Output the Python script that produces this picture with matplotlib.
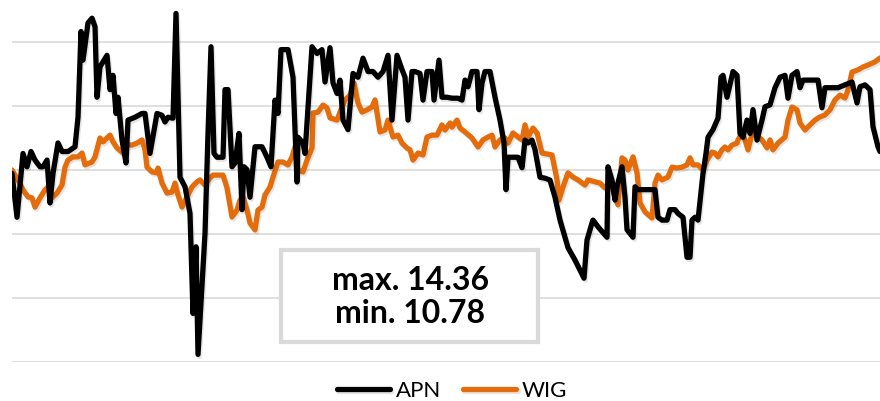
import matplotlib
matplotlib.use("Agg")
import matplotlib.pyplot as plt
import matplotlib.patheffects as pe
from matplotlib.patches import Rectangle
import numpy as np

plt.rcParams['font.family'] = ['Lato', 'DejaVu Sans']

# APN share price (PLN), time in session units
t_apn = [0, 5, 11, 15, 19, 23, 28, 31, 35, 38, 41, 46, 50, 56, 63, 66, 69, 71, 76, 80,
         83, 85, 88, 95, 98, 101, 104, 106, 110, 114, 116, 123, 130, 133, 138, 145, 150, 153, 156, 161,
         164, 168, 173, 178, 181, 184, 186, 193, 196, 199, 202, 205, 211, 213, 216, 220, 223, 227, 230, 232,
         235, 238, 243, 250, 255, 259, 263, 266, 269, 276, 281, 285, 286, 291, 293, 300, 305, 310, 313, 318,
         321, 325, 328, 331, 336, 341, 346, 351, 356, 361, 366, 371, 376, 380, 385, 390, 393, 396, 400, 403,
         408, 411, 415, 420, 422, 427, 430, 435, 440, 446, 450, 453, 456, 460, 465, 467, 470, 473, 478, 483,
         488, 492, 494, 496, 501, 506, 510, 513, 516, 520, 523, 528, 533, 538, 543, 548, 556, 563, 572, 575,
         580, 581, 586, 595, 596, 600, 603, 605, 610, 613, 615, 618, 621, 623, 626, 636, 643, 646, 650, 655,
         658, 663, 666, 671, 675, 678, 680, 683, 686, 691, 694, 696, 701, 706, 709, 711, 715, 721, 725, 728,
         731, 735, 738, 741, 745, 750, 753, 758, 763, 768, 773, 776, 780, 785, 788, 791, 796, 806, 810, 813,
         820, 826, 833, 840, 845, 848, 853, 858, 861, 866, 868]
apn = [12.68, 12.22, 12.89, 12.75, 12.91, 12.82, 12.75, 12.75, 12.82, 12.37, 12.68, 13.00, 12.91, 12.91, 12.96, 13.27, 14.17, 13.87, 14.26, 14.31,
       14.22, 13.48, 13.80, 13.92, 13.56, 13.71, 13.31, 13.48, 13.03, 12.79, 13.24, 13.27, 13.31, 13.31, 12.89, 13.31, 13.29, 13.22, 13.27, 13.26,
       14.36, 12.64, 12.54, 12.26, 11.21, 11.91, 10.78, 12.05, 13.10, 14.01, 12.89, 12.85, 12.85, 13.56, 13.56, 12.75, 12.79, 13.10, 12.30, 12.75,
       12.72, 12.43, 12.96, 12.96, 12.85, 12.75, 13.45, 13.31, 13.98, 13.98, 13.69, 12.59, 13.06, 13.00, 12.89, 14.01, 13.94, 13.98, 13.64, 14.00,
       13.63, 13.52, 13.66, 13.24, 13.14, 13.73, 13.69, 13.89, 13.75, 13.75, 13.69, 13.75, 13.92, 13.24, 13.92, 13.77, 13.69, 13.24, 13.75, 13.75,
       13.73, 13.45, 13.75, 13.75, 13.45, 13.87, 13.48, 13.48, 13.47, 13.47, 13.45, 13.66, 13.59, 13.75, 13.75, 13.35, 13.63, 13.75, 13.75, 13.48,
       13.24, 13.00, 12.51, 12.85, 12.85, 12.85, 12.74, 13.03, 13.00, 13.03, 12.93, 12.64, 12.63, 12.61, 12.43, 12.19, 11.90, 11.77, 11.58, 11.98,
       12.16, 12.19, 12.12, 12.01, 12.75, 12.61, 12.40, 12.54, 12.75, 12.43, 12.09, 12.05, 12.01, 12.54, 12.51, 12.51, 12.51, 12.22, 12.19, 12.19,
       12.30, 12.30, 12.26, 12.22, 11.80, 11.80, 12.19, 12.22, 12.19, 12.68, 12.89, 13.06, 13.14, 13.26, 13.69, 13.71, 13.48, 13.75, 13.71, 13.10,
       13.06, 13.24, 13.10, 13.35, 13.03, 13.24, 13.38, 13.40, 13.58, 13.69, 13.71, 13.47, 13.71, 13.75, 13.58, 13.66, 13.66, 13.66, 13.37, 13.58,
       13.58, 13.58, 13.61, 13.64, 13.42, 13.59, 13.61, 13.56, 13.17, 12.96, 12.91]

# WIG index (points)
t_wig = [0, 6, 11, 16, 20, 23, 28, 33, 36, 40, 45, 50, 53, 56, 61, 66, 70, 73, 80, 83,
         88, 91, 98, 101, 105, 111, 115, 120, 125, 130, 133, 135, 140, 145, 146, 150, 155, 160, 163, 166,
         170, 175, 180, 185, 188, 193, 198, 201, 211, 215, 220, 225, 228, 231, 235, 238, 243, 246, 250, 253,
         258, 261, 266, 271, 276, 280, 283, 286, 291, 295, 300, 301, 306, 311, 315, 318, 325, 330, 333, 338,
         342, 346, 350, 355, 360, 363, 368, 373, 376, 381, 386, 390, 395, 398, 401, 406, 411, 415, 420, 425,
         430, 433, 438, 440, 445, 448, 453, 460, 466, 471, 476, 480, 483, 488, 493, 496, 501, 506, 510, 513,
         516, 521, 525, 530, 540, 545, 547, 551, 556, 561, 566, 573, 576, 583, 588, 593, 598, 603, 606, 610,
         613, 616, 621, 625, 628, 633, 640, 643, 646, 650, 656, 660, 665, 670, 675, 678, 681, 686, 691, 695,
         700, 703, 706, 710, 713, 716, 720, 725, 726, 730, 733, 736, 741, 746, 750, 755, 758, 761, 766, 773,
         776, 780, 785, 788, 793, 798, 803, 808, 813, 818, 823, 828, 833, 836, 840, 846, 851, 856, 863, 868]
wig = [62000, 61690, 61380, 61160, 61130, 60840, 61130, 61380, 61470, 61130, 61280, 61530, 62090, 62310, 62410, 62410, 62530, 62160, 62250, 62410,
       63000, 62880, 63090, 62880, 62690, 62530, 62780, 62780, 62840, 62940, 62630, 62090, 61940, 61910, 62060, 61590, 61280, 61310, 61590, 61220,
       60840, 61160, 61470, 61630, 61690, 61530, 61750, 61840, 61840, 61440, 60530, 60750, 61060, 61160, 60750, 60340, 60130, 60750, 60840, 61220,
       61470, 61780, 62250, 62250, 62160, 62410, 62720, 62000, 61940, 62310, 62690, 63780, 63810, 64030, 63940, 63630, 63560, 63970, 64190, 64340,
       64720, 64090, 63810, 63880, 63970, 64190, 63190, 63250, 63560, 63030, 63090, 62840, 62690, 62630, 62310, 62530, 62470, 63030, 63090, 63090,
       63410, 63250, 63470, 63340, 63560, 63310, 63190, 63000, 62720, 62940, 63030, 63090, 62720, 62940, 63000, 62840, 63160, 63030, 62940, 63410,
       63030, 63310, 63160, 62530, 62470, 61690, 61060, 61470, 61910, 61780, 61690, 61530, 61690, 61630, 61590, 61440, 61630, 61160, 60910, 62380,
       62310, 62000, 62410, 61910, 60970, 60690, 60500, 61590, 61840, 61690, 61780, 62090, 62060, 62090, 62160, 62380, 62160, 62160, 62000, 62310,
       62560, 62530, 62410, 62630, 62720, 62630, 62780, 62840, 62940, 63160, 62940, 62630, 63250, 63030, 62940, 62690, 62940, 62630, 62840, 63030,
       63560, 63970, 63880, 63470, 63250, 63410, 63560, 63660, 63720, 63880, 64190, 64340, 64250, 64500, 65060, 65130, 65220, 65280, 65380, 65500]

wig_grid = [56000, 58000, 60000, 62000, 64000, 66000]
stats_text = "max. 14.36\nmin. 10.78"

fig = plt.figure(figsize=(8.8, 4.01), dpi=100)
ax = fig.add_axes([12 / 880, 39 / 401, 868 / 880, 362 / 401])
ax2 = ax.twinx()

shadow = [pe.SimpleLineShadow(offset=(1, -1.5), shadow_color='black', alpha=0.1), pe.Normal()]

# WIG on the base axis (carries the grid), APN on the twin axis
l_wig, = ax.plot(t_wig, wig, color='#E46C0A', lw=3.8, label='WIG', path_effects=shadow,
                 solid_joinstyle='round', solid_capstyle='round')
l_apn, = ax2.plot(t_apn, apn, color='black', lw=3.8, label='APN', path_effects=shadow,
                  solid_joinstyle='round', solid_capstyle='round')

ax.set_xlim(0, 868)
ax.set_ylim(56000, 56000 + 362 * 31.25)
ax2.set_ylim(10.70, 10.70 + 362 * 0.0105)
ax.set_yticks(wig_grid)
ax.grid(axis='y', color='#d9d9d9', lw=1.2)
ax.set_axisbelow(True)
for a in (ax, ax2):
    a.set_xticks([])
    a.tick_params(left=False, right=False, labelleft=False, labelright=False)
    for s in a.spines.values():
        s.set_visible(False)
ax2.set_yticks([])

# stats box
fig.add_artist(Rectangle((281 / 880, (401 - 342) / 401), 257 / 880, 92 / 401,
                         transform=fig.transFigure, facecolor='white', edgecolor='#d9d9d9',
                         lw=3, zorder=5))
fig.text(410 / 880, (401 - 297) / 401, stats_text, ha='center', va='center', fontsize=23,
         fontweight='bold', linespacing=1.15, zorder=6)

fig.legend([l_apn, l_wig], ['APN', 'WIG'], loc='center', bbox_to_anchor=(452 / 880, (401 - 391) / 401),
           ncol=2, frameon=False, fontsize=16, handlelength=2.4, handletextpad=0.25,
           columnspacing=1.0)

fig.savefig('out.png', dpi=100)
